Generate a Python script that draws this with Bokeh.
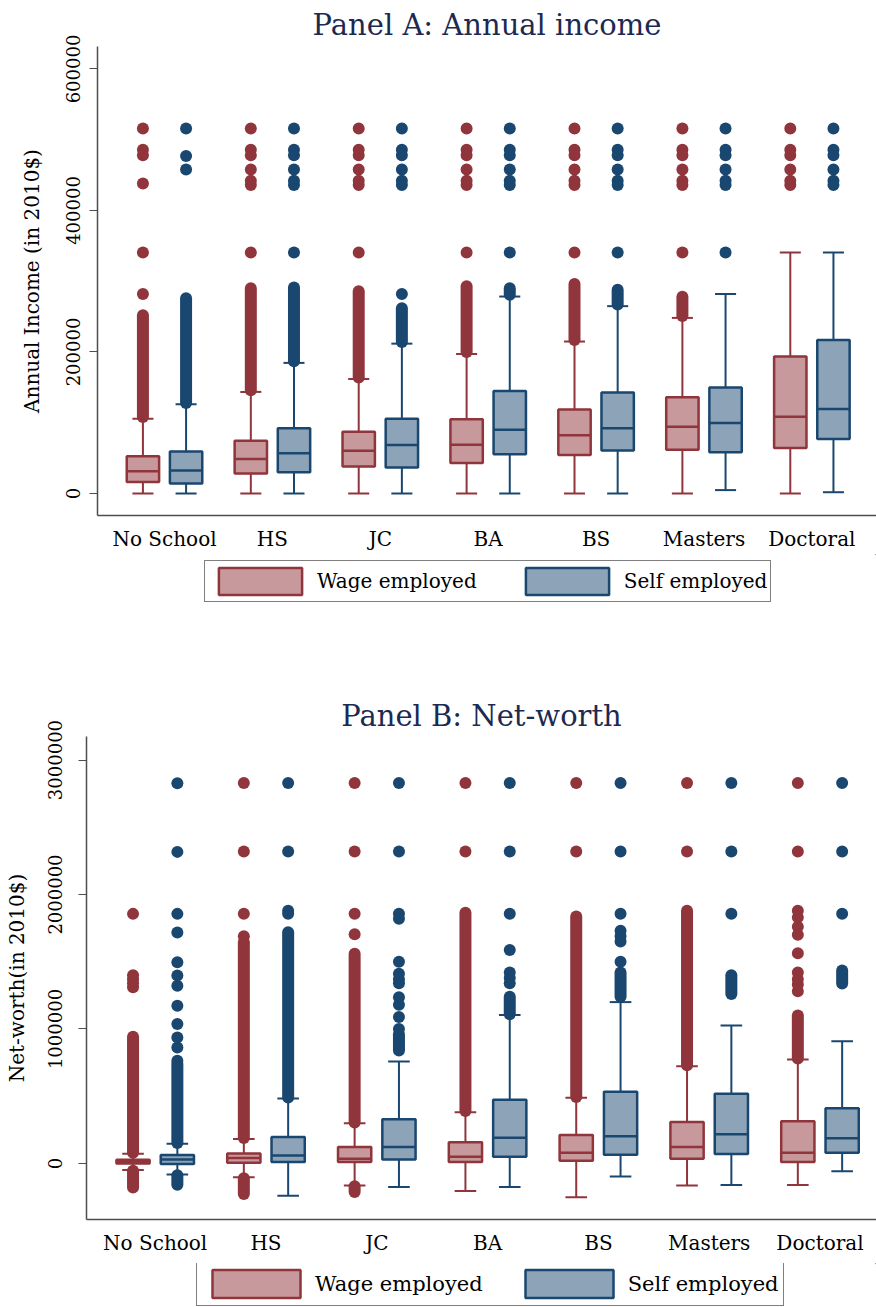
from bokeh.plotting import figure
from bokeh.layouts import column, row
from bokeh.models import (FixedTicker, Legend, LegendItem, Range1d, BasicTickFormatter)
from bokeh.embed import file_html
from bokeh.resources import INLINE

# ---------------- data ----------------
categories = ["No School", "HS", "JC", "BA", "BS", "Masters", "Doctoral"]
series_names = ["Wage employed", "Self employed"]

# Panel A: annual income (2010$) box statistics
inc_wage_lo = [0, 0, 0, 0, 0, 0, 0]
inc_wage_q1 = [16400, 28200, 38200, 43200, 54300, 61900, 64400]
inc_wage_med = [31600, 48800, 60400, 69000, 82500, 94200, 108300]
inc_wage_q3 = [52800, 74500, 87100, 104800, 118900, 136100, 193600]
inc_wage_hi = [105800, 143600, 161800, 197200, 214800, 248200, 340600]

inc_self_lo = [0, 0, 0, 0, 0, 4800, 1800]
inc_self_q1 = [14100, 30100, 36700, 55300, 60900, 58400, 77000]
inc_self_med = [32600, 56800, 68400, 90200, 92200, 99800, 119400]
inc_self_q3 = [59400, 92200, 105800, 144700, 142700, 149800, 216800]
inc_self_hi = [126000, 184600, 211800, 278400, 264800, 282000, 340600]

# dense runs of outliers (from, to) per category, None = no run
inc_wage_dense = [(108000, 252000), (146000, 290000), (164000, 286000), (200000, 293000),
                  (217000, 296000), (251000, 278000), None]
inc_self_dense = [(128000, 276000), (187000, 291000), (214000, 262000), (281000, 290000),
                  (267000, 288000), None, None]
# individual outliers per category
inc_wage_out = [
    [516000, 486000, 478000, 438000, 340600, 282000],
    [516000, 486000, 478000, 458000, 442000, 436000, 340600],
    [516000, 486000, 478000, 458000, 442000, 436000, 340600],
    [516000, 486000, 478000, 458000, 442000, 436000, 340600],
    [516000, 486000, 478000, 458000, 442000, 436000, 340600],
    [516000, 486000, 478000, 458000, 442000, 436000, 340600],
    [516000, 486000, 478000, 458000, 442000, 436000],
]
inc_self_out = [
    [516000, 477000, 458000],
    [516000, 486000, 478000, 458000, 442000, 436000, 340600],
    [516000, 486000, 478000, 458000, 442000, 436000, 282000],
    [516000, 486000, 478000, 458000, 442000, 436000, 340600],
    [516000, 486000, 478000, 458000, 442000, 436000, 340600],
    [516000, 486000, 478000, 458000, 442000, 436000, 340600],
    [516000, 486000, 478000, 458000, 442000, 436000],
]

# Panel B: net worth (2010$) box statistics
nw_wage_lo = [-49000, -102500, -164000, -205000, -252000, -164000, -161000]
nw_wage_q1 = [0, 5900, 11700, 11700, 20500, 35100, 11700]
nw_wage_med = [12600, 41000, 35100, 49800, 79100, 123000, 79100]
nw_wage_q3 = [27500, 73200, 123000, 158200, 210900, 307600, 313400]
nw_wage_hi = [72000, 181600, 298800, 380800, 489000, 723500, 773300]

nw_self_lo = [-81800, -240000, -175700, -175700, -96700, -161000, -58600]
nw_self_q1 = [-4000, 11700, 29300, 49800, 64400, 70300, 79100]
nw_self_med = [30000, 58600, 123000, 190400, 202100, 216700, 187500]
nw_self_q3 = [62500, 196000, 328000, 474500, 533000, 518500, 410000]
nw_self_hi = [146600, 483300, 758600, 1104000, 1200000, 1025000, 908000]

nw_wage_dense = [(80000, 943000), (190000, 1645000), (305000, 1560000), (390000, 1865000),
                 (495000, 1836000), (730000, 1880000), (780000, 1100000)]
nw_wage_dense_low = [(-55000, -178000), (-110000, -228000), (-170000, -213000),
                     None, None, None, None]
nw_self_dense = [(152000, 742000), (490000, 1720000), (840000, 960000), (1110000, 1240000),
                 (1240000, 1420000), (1260000, 1400000), (1339000, 1435000)]
nw_self_dense_low = [(-88000, -158000), None, None, None, None, None, None]

nw_wage_out = [
    [1310000, 1340000, 1370000, 1400000, 1856000],
    [1690000, 1857000, 2320000, 2830000],
    [1705000, 1857000, 2320000, 2830000],
    [2320000, 2830000],
    [2320000, 2830000],
    [2320000, 2830000],
    [1280000, 1330000, 1370000, 1420000, 1564000, 1700000, 1760000, 1830000, 1880000,
     2320000, 2830000],
]
nw_self_out = [
    [764000, 863000, 937000, 1037000, 1173000, 1322000, 1397000, 1496000, 1717000,
     1856000, 2317000, 2827000],
    [1856000, 1880000, 2320000, 2830000],
    [1000000, 1090000, 1180000, 1236000, 1340000, 1370000, 1410000, 1500000, 1820000,
     1857000, 2320000, 2830000],
    [1340000, 1380000, 1420000, 1587000, 1857000, 2320000, 2830000],
    [1500000, 1650000, 1690000, 1730000, 1857000, 2320000, 2830000],
    [1857000, 2320000, 2830000],
    [1857000, 2320000, 2830000],
]

inc_ticks = [0, 200000, 400000, 600000]
nw_ticks = [0, 1000000, 2000000, 3000000]

# ---------------- style ----------------
FONT = "DejaVu Serif"
WAGE_LINE, WAGE_FILL = "#90353b", "#c8999c"
SELF_LINE, SELF_FILL = "#1a476f", "#8ca3b8"
AXIS_COLOR = "#4d4d4d"
TITLE_COLOR = "#1c2a52"
OFFSET = 0.2
BOX_W = 0.30
CAP_HALF = 0.0975
DOT = 12
W = 876


def draw_series(p, off, line, fill, lo, q1, med, q3, hi, dense, dense_low, outs):
    xs = [i + off for i in range(len(categories))]
    p.segment(xs, q3, xs, hi, line_color=line, line_width=2)
    p.segment(xs, lo, xs, q1, line_color=line, line_width=2)
    p.segment([x - CAP_HALF for x in xs], hi, [x + CAP_HALF for x in xs], hi,
              line_color=line, line_width=2)
    p.segment([x - CAP_HALF for x in xs], lo, [x + CAP_HALF for x in xs], lo,
              line_color=line, line_width=2)
    runs = [(xs[i], r) for i, r in enumerate(dense) if r is not None]
    runs += [(xs[i], r) for i, r in enumerate(dense_low) if r is not None]
    if runs:
        p.segment([x for x, r in runs], [r[0] for x, r in runs],
                  [x for x, r in runs], [r[1] for x, r in runs],
                  line_color=line, line_width=DOT, line_cap="round")
    ox, oy = [], []
    for i, vals in enumerate(outs):
        ox += [xs[i]] * len(vals)
        oy += vals
    p.scatter(ox, oy, size=DOT, marker="circle", fill_color=line, line_color=line,
              line_width=0)
    p.vbar(x=xs, bottom=q1, top=q3, width=BOX_W, fill_color=fill,
           line_color=line, line_width=2.5)
    p.segment([x - BOX_W / 2 for x in xs], med, [x + BOX_W / 2 for x in xs], med,
              line_color=line, line_width=2.5)


def make_panel(title, ylabel, yr, ticks, xr, left, fh, top, bottom,
               tick_standoff, label_standoff, title_offset, title_standoff,
               wage, selfs):
    p = figure(frame_width=W - left, frame_height=fh, x_range=Range1d(*xr),
               y_range=Range1d(*yr), output_backend="svg", toolbar_location=None,
               min_border_left=left, min_border_right=0, min_border_top=top,
               min_border_bottom=bottom)
    p.outline_line_color = None
    p.xgrid.visible = False
    p.ygrid.visible = False
    p.background_fill_color = "white"
    p.border_fill_color = "white"

    p.title.text = title
    p.title.align = "center"
    p.title.text_font = FONT
    p.title.text_font_size = "29px"
    p.title.text_font_style = "normal"
    p.title.text_color = TITLE_COLOR
    p.title.standoff = title_standoff
    p.title.offset = title_offset

    p.xaxis.ticker = FixedTicker(ticks=list(range(len(categories))))
    p.xaxis.major_label_overrides = {i: c for i, c in enumerate(categories)}
    p.xaxis.major_tick_out = 0
    p.xaxis.major_tick_in = 0
    p.xaxis.minor_tick_out = 0
    p.xaxis.major_label_text_font = FONT
    p.xaxis.major_label_text_font_size = "20px"
    p.xaxis.major_label_text_color = "black"
    p.xaxis.major_label_standoff = 11
    p.xaxis.axis_line_color = AXIS_COLOR
    p.xaxis.axis_line_width = 1.5

    p.yaxis.ticker = FixedTicker(ticks=ticks)
    p.yaxis.formatter = BasicTickFormatter(use_scientific=False)
    p.yaxis.major_label_orientation = "vertical"
    p.yaxis.major_tick_out = 8
    p.yaxis.major_tick_in = 0
    p.yaxis.minor_tick_out = 0
    p.yaxis.major_tick_line_color = AXIS_COLOR
    p.yaxis.axis_line_color = AXIS_COLOR
    p.yaxis.axis_line_width = 1.5
    p.yaxis.major_label_text_font = FONT
    p.yaxis.major_label_text_font_size = "18px"
    p.yaxis.major_label_text_color = "black"
    p.yaxis.major_label_standoff = tick_standoff
    p.yaxis.axis_label = ylabel
    p.yaxis.axis_label_text_font = FONT
    p.yaxis.axis_label_text_font_size = "20px"
    p.yaxis.axis_label_text_font_style = "normal"
    p.yaxis.axis_label_text_color = "black"
    p.yaxis.axis_label_standoff = label_standoff

    draw_series(p, -OFFSET, WAGE_LINE, WAGE_FILL, *wage)
    draw_series(p, OFFSET, SELF_LINE, SELF_FILL, *selfs)
    return p


def legend_strip(height, loc, glyph_w, glyph_h, standoff, spacing, pad, font_size):
    f = figure(width=W, height=height, x_axis_location=None, y_axis_location=None,
               toolbar_location=None, output_backend="svg", min_border=0,
               x_range=Range1d(0, 1), y_range=Range1d(0, 1))
    f.outline_line_color = None
    f.xgrid.visible = False
    f.ygrid.visible = False
    # swatch renderers sit outside the visible range; only their legend entries show
    rw = f.vbar(x=[5], bottom=[5], top=[6], width=0.1, fill_color=WAGE_FILL,
                line_color=WAGE_LINE, line_width=2.5)
    rs = f.vbar(x=[5], bottom=[5], top=[6], width=0.1, fill_color=SELF_FILL,
                line_color=SELF_LINE, line_width=2.5)
    legend = Legend(items=[LegendItem(label=series_names[0], renderers=[rw]),
                           LegendItem(label=series_names[1], renderers=[rs])],
                    orientation="horizontal", location=loc,
                    glyph_width=glyph_w, glyph_height=glyph_h, label_standoff=standoff,
                    spacing=spacing, padding=pad, margin=0,
                    border_line_color="black", border_line_width=1,
                    background_fill_color="white", background_fill_alpha=1,
                    label_text_font=FONT, label_text_font_size=font_size,
                    label_text_color="black", label_height=glyph_h)
    f.add_layout(legend)
    return f


pA = make_panel("Panel A: Annual income", "Annual Income (in 2010$)",
                (-31100, 631800), inc_ticks, (-0.621, 6.599), left=97, fh=469,
                top=45, bottom=39, tick_standoff=9, label_standoff=20,
                title_offset=5, title_standoff=10,
                wage=(inc_wage_lo, inc_wage_q1, inc_wage_med, inc_wage_q3, inc_wage_hi,
                      inc_wage_dense, [None] * 7, inc_wage_out),
                selfs=(inc_self_lo, inc_self_q1, inc_self_med, inc_self_q3, inc_self_hi,
                       inc_self_dense, [None] * 7, inc_self_out))
legA = legend_strip(138, (204, 90), 104, 34, 5, 38, 3, "20px")

pB = make_panel("Panel B: Net-worth", "Net-worth(in 2010$)",
                (-416700, 3175000), nw_ticks, (-0.62, 6.51), left=86, fh=483,
                top=37, bottom=44, tick_standoff=16, label_standoff=17,
                title_offset=3, title_standoff=8,
                wage=(nw_wage_lo, nw_wage_q1, nw_wage_med, nw_wage_q3, nw_wage_hi,
                      nw_wage_dense, nw_wage_dense_low, nw_wage_out),
                selfs=(nw_self_lo, nw_self_q1, nw_self_med, nw_self_q3, nw_self_hi,
                       nw_self_dense, nw_self_dense_low, nw_self_out))
legB = legend_strip(43, (196, 0), 110, 35, 4, 31, 4, "21px")

layout = column(row(pA), row(legA), row(pB), row(legB), spacing=0)
open("out.html", "w").write(file_html(layout, INLINE))
